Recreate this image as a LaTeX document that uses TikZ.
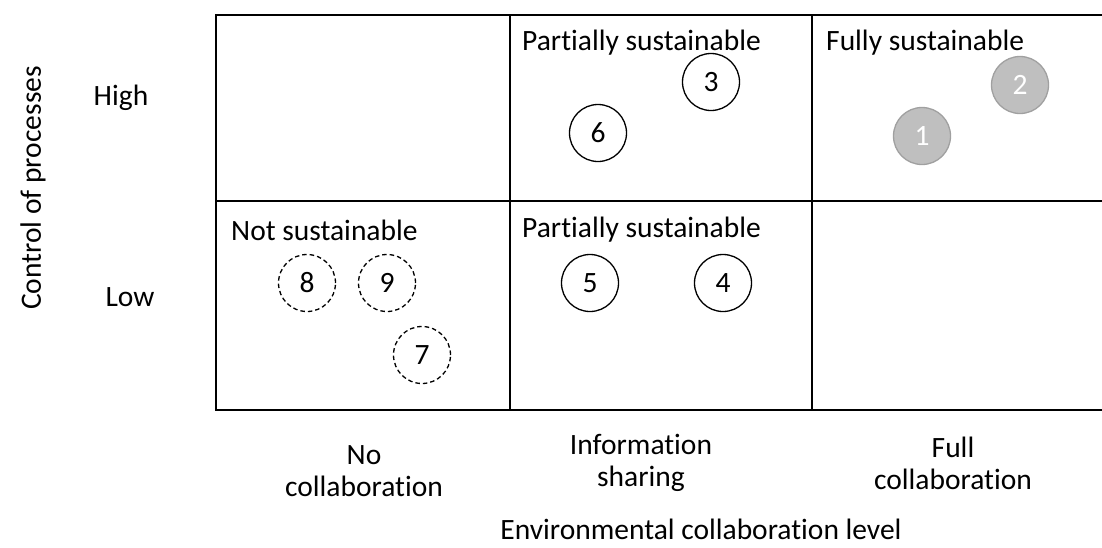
\documentclass[tikz,border=0pt]{standalone}
\usepackage{fontspec}
\setmainfont[Ligatures={NoCommon}]{Carlito}
\begin{document}
\begin{tikzpicture}[x=1pt,y=-1pt,
  grid/.style={line width=1.8pt},
  lbl/.style={font=\fontsize{29.5}{32}\selectfont, inner sep=0pt},
  cat/.style={lbl, anchor=west},
  solidc/.style={circle, draw, line width=1.3pt, minimum size=57pt, inner sep=0pt, font=\fontsize{29.5}{33}\selectfont},
  dashc/.style={solidc, dash pattern=on 4.5pt off 3pt},
  grayc/.style={solidc, draw=graydark, fill=graylight, text=white},
  ]
\definecolor{graylight}{HTML}{BFBFBF}
\definecolor{graydark}{HTML}{A0A0A0}
\useasboundingbox (0,0) rectangle (1102,547);
% grid
\draw[grid] (1102,15) -- (216,15) -- (216,410) -- (1102,410);
\draw[grid] (216,201) -- (1102,201);
\draw[grid] (510,15) -- (510,410);
\draw[grid] (812,15) -- (812,410);
% category labels
\node[cat] (ps1) at (522,43) {Partially sustainable};
\node[cat] (fs) at (826,43) {Fully sustainable};
\node[cat] (ns) at (231,230) {Not sustainable};
\node[cat] (ps2) at (522,230) {Partially sustainable};
% circles
\node[grayc] (c1) at (922,136) {1};
\node[grayc] (c2) at (1020,85) {2};
\node[solidc] (c3) at (711,82) {3};
\node[solidc] (c6) at (598,133) {6};
\node[solidc] (c5) at (590,283) {5};
\node[solidc] (c4) at (723,283) {4};
\node[dashc] (c8) at (307,283) {8};
\node[dashc] (c9) at (387,283) {9};
\node[dashc] (c7) at (422,355) {7};
% axis labels
\node[lbl] (high) at (121,98) {High};
\node[lbl] (low) at (130,297) {Low};
\node[lbl, rotate=90] (yax) at (33,188) {Control of processes};
\node[lbl, align=center] (x1) at (364,471) {No\\collaboration};
\node[lbl, align=center] (x2) at (641,463) {Information\\sharing};
\node[lbl, align=center] (x3) at (953,463) {Full\\collaboration};
\node[lbl] (xax) at (701,529) {Environmental collaboration level};
\end{tikzpicture}
\end{document}
